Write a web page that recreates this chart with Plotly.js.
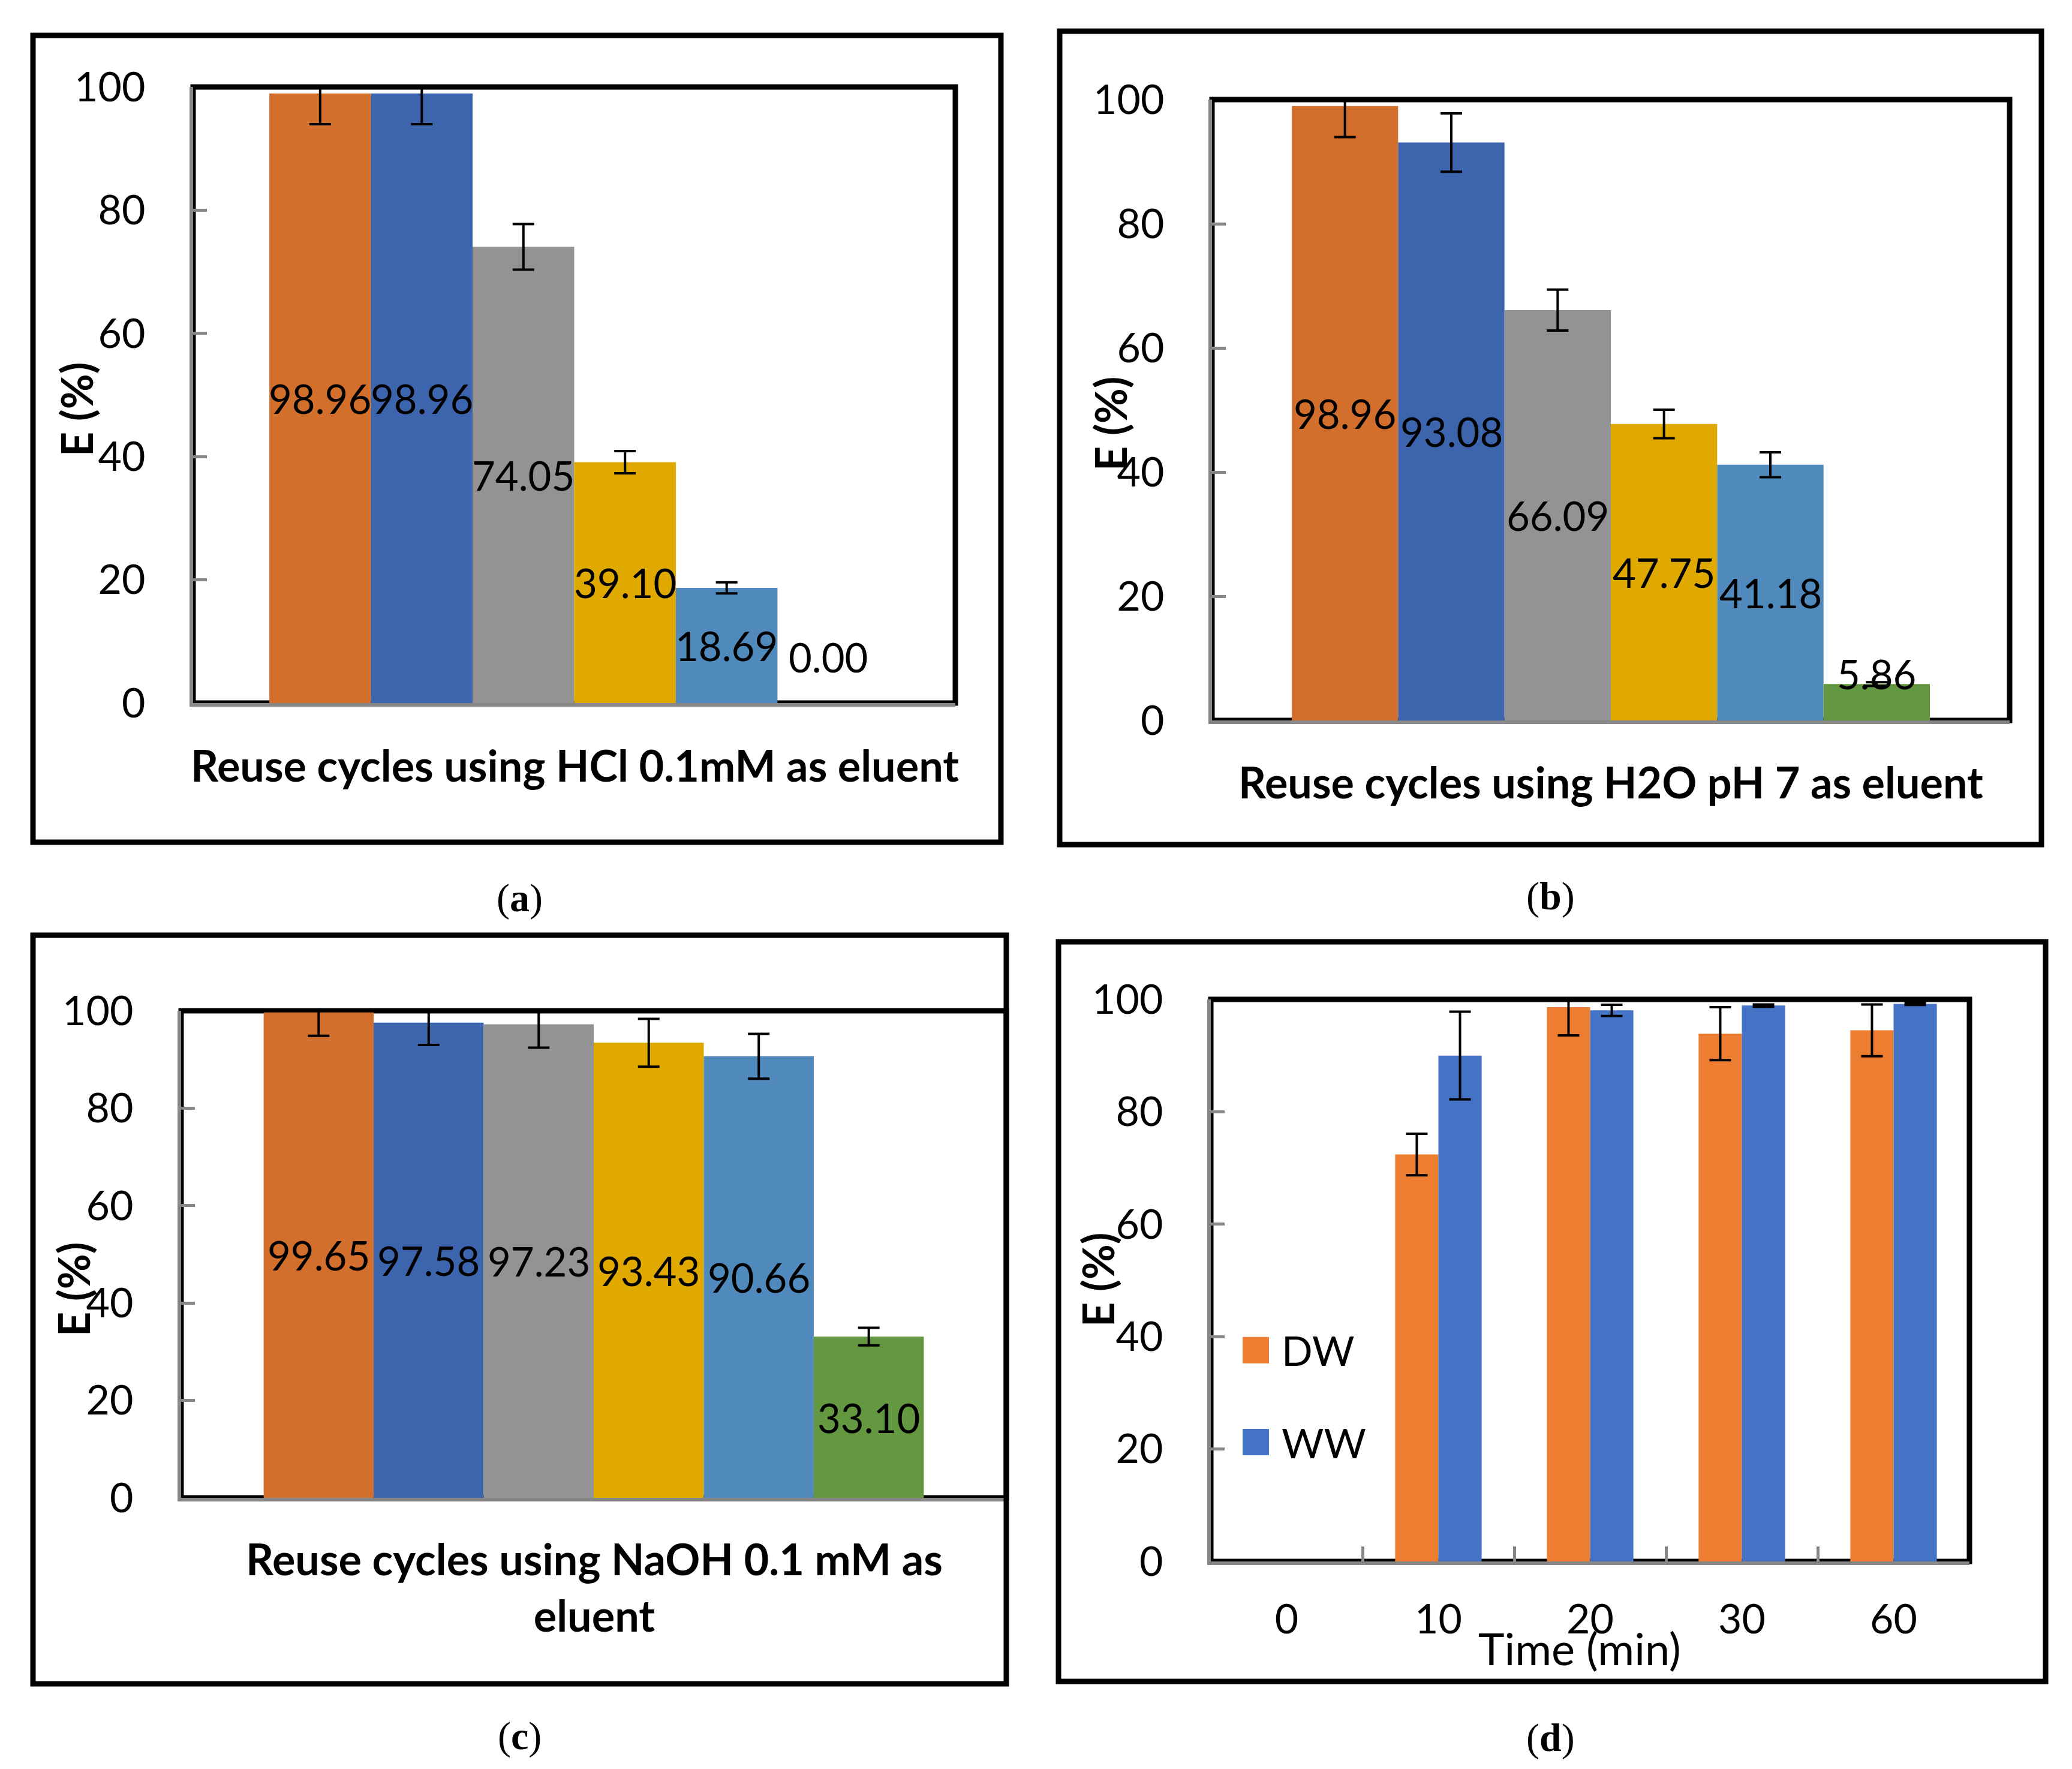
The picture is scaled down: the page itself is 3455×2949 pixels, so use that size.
<!DOCTYPE html>
<html>
<head>
<meta charset="utf-8">
<script src="https://cdn.plot.ly/plotly-3.0.1.min.js"></script>
<style>
body { margin: 0; background: #ffffff; }
</style>
</head>
<body>
<div id="figure"></div>
<script>
var cycles = [1, 2, 3, 4, 5, 6];
var cycleColors = ['#D36F2C', '#3C65AE', '#939393', '#E0A900', '#5089BB', '#639840'];

var hclValues = [98.96, 98.96, 74.05, 39.10, 18.69, 0.00];
var hclErrors = [5.0, 5.0, 3.7, 1.8, 0.9, NaN];

var waterValues = [98.96, 93.08, 66.09, 47.75, 41.18, 5.86];
var waterErrors = [5.0, 4.7, 3.3, 2.3, 2.0, 0.3];

var naohValues = [99.65, 97.58, 97.23, 93.43, 90.66, 33.10];
var naohErrors = [4.8, 4.6, 4.8, 4.9, 4.6, 1.8];

var times = ['0', '10', '20', '30', '60'];
var dwValues = [0, 72.4, 98.6, 93.9, 94.5];
var dwErrors = [NaN, 3.7, 5.0, 4.7, 4.6];
var wwValues = [0, 90.0, 98.05, 98.9, 99.2];
var wwErrors = [NaN, 7.8, 1.0, 0.2, 0.2];

var yTicks = [0, 20, 40, 60, 80, 100];

var W = 3455, H = 2949;
var FONT = 'Lato, Carlito, sans-serif';
var AXIS_GREY = '#878787';

function px(x) { return x / W; }
function py(y) { return 1 - y / H; }

function cycleTrace(values, errors, n)
{
	return {
		type: 'bar',
		x: cycles,
		y: values,
		width: 1,
		marker: {color: cycleColors, line: {width: 0}},
		error_y: {type: 'data', array: errors, visible: true, color: '#000000', thickness: 4, width: 18},
		xaxis: 'x' + n,
		yaxis: 'y' + n,
		showlegend: false,
		hoverinfo: 'none'
	};
}

function timeTrace(name, values, errors, color)
{
	return {
		type: 'bar',
		name: name,
		legendgroup: name,
		x: times,
		y: values,
		marker: {color: color, line: {width: 0}},
		error_y: {type: 'data', array: errors, visible: true, color: '#000000', thickness: 4, width: 18},
		xaxis: 'x4',
		yaxis: 'y4',
		hoverinfo: 'none'
	};
}

function yAxis(top, bottom, anchor)
{
	return {
		domain: [py(bottom), py(top)],
		anchor: anchor,
		range: [0, 100],
		tickvals: yTicks,
		ticks: 'inside',
		ticklen: 23,
		tickwidth: 5,
		tickcolor: AXIS_GREY,
		showline: true,
		linecolor: AXIS_GREY,
		linewidth: 6,
		showgrid: false,
		zeroline: false,
		ticklabelstandoff: 60,
		tickfont: {family: FONT, size: 68, color: '#000000'}
	};
}

function xAxis(left, right, anchor)
{
	return {
		domain: [px(left), px(right)],
		anchor: anchor,
		range: [-0.25, 7.25],
		tickvals: [-0.25, 7.25],
		ticktext: ['', ''],
		ticks: 'inside',
		ticklen: 23,
		tickwidth: 5,
		tickcolor: AXIS_GREY,
		showline: true,
		linecolor: AXIS_GREY,
		linewidth: 6,
		showgrid: false,
		zeroline: false,
		fixedrange: true
	};
}

function valueLabels(values, n)
{
	var out = [];
	for(var iii = 0; iii < values.length; iii++)
	{
		out.push({
			xref: 'x' + n, yref: 'y' + n,
			x: cycles[iii],
			y: Math.max(values[iii] / 2, 7.5),
			text: values[iii].toFixed(2),
			showarrow: false,
			font: {family: FONT, size: 67, color: '#000000'}
		});
	}
	return out;
}

function paperText(text, x, y, opts)
{
	var a = {
		xref: 'paper', yref: 'paper',
		x: px(x), y: py(y),
		xanchor: 'center', yanchor: 'middle',
		text: text,
		showarrow: false,
		font: {family: FONT, size: 74, color: '#000000'}
	};
	for(var k in opts)
		a[k] = opts[k];
	return a;
}

function box(x0, x1, y0, y1)
{
	return {
		type: 'rect', xref: 'paper', yref: 'paper',
		x0: px(x0), x1: px(x1), y0: py(y0), y1: py(y1),
		line: {color: '#000000', width: 9},
		fillcolor: 'rgba(0,0,0,0)',
		layer: 'above'
	};
}

function frame(n)
{
	return {
		type: 'rect', xref: 'x' + n + ' domain', yref: 'y' + n + ' domain',
		x0: 0, x1: 1, y0: 0, y1: 1,
		line: {color: '#000000', width: 9},
		fillcolor: 'rgba(0,0,0,0)',
		layer: 'below'
	};
}

var data = [
	cycleTrace(hclValues, hclErrors, ''),
	cycleTrace(waterValues, waterErrors, '2'),
	cycleTrace(naohValues, naohErrors, '3'),
	timeTrace('DW', dwValues, dwErrors, '#ED7D31'),
	timeTrace('WW', wwValues, wwErrors, '#4472C4')
];

var annotations = []
	.concat(valueLabels(hclValues, ''))
	.concat(valueLabels(waterValues, '2'))
	.concat(valueLabels(naohValues, '3'));

var bold = {font: {family: FONT, size: 72, color: '#000000', weight: 'bold'}};
var yTitle = {textangle: -90, font: {family: FONT, size: 72, color: '#000000', weight: 'bold'}};
annotations.push(paperText('Reuse cycles using HCl 0.1mM as eluent', 958, 1275, bold));
annotations.push(paperText('Reuse cycles using H2O pH 7 as eluent', 2686, 1303, bold));
annotations.push(paperText('Reuse cycles using NaOH 0.1 mM as<br>eluent', 991, 2645, bold));
annotations.push(paperText('Time (min)', 2634, 2747, {}));
annotations.push(paperText('E (%)', 127, 683, yTitle));
annotations.push(paperText('E (%)', 1851, 707, yTitle));
annotations.push(paperText('E (%)', 122, 2150, yTitle));
annotations.push(paperText('E (%)', 1830, 2134, yTitle));

var serif = {font: {family: 'Liberation Serif, Times New Roman, serif', size: 66, color: '#000000'}};
annotations.push(paperText('(<b>a</b>)', 866, 1497, serif));
annotations.push(paperText('(<b>b</b>)', 2585, 1494, serif));
annotations.push(paperText('(<b>c</b>)', 866, 2894, serif));
annotations.push(paperText('(<b>d</b>)', 2585, 2897, serif));

var timeX = xAxis(2019, 3284, 'y4');
timeX.type = 'category';
timeX.range = [-0.5, 4.5];
delete timeX.tickvals;
delete timeX.ticktext;
timeX.tickson = 'boundaries';
timeX.ticklen = 25;
timeX.ticklabelstandoff = 32;
timeX.tickfont = {family: FONT, size: 68, color: '#000000'};

var layout = {
	width: W,
	height: H,
	autosize: false,
	margin: {l: 0, r: 0, t: 0, b: 0},
	paper_bgcolor: '#ffffff',
	plot_bgcolor: 'rgba(0,0,0,0)',
	barmode: 'group',
	bargap: 0.43,
	bargroupgap: 0,
	xaxis: xAxis(322, 1593, 'y'),
	yaxis: yAxis(145, 1172, 'x'),
	xaxis2: xAxis(2021, 3351, 'y2'),
	yaxis2: yAxis(166, 1201, 'x2'),
	xaxis3: xAxis(302, 1678, 'y3'),
	yaxis3: yAxis(1685, 2497, 'x3'),
	xaxis4: timeX,
	yaxis4: yAxis(1666, 2603, 'x4'),
	showlegend: true,
	legend: {
		x: px(2051), xanchor: 'left',
		y: py(2200), yanchor: 'top',
		bgcolor: 'rgba(0,0,0,0)',
		font: {family: FONT, size: 68, color: '#000000'},
		itemwidth: 76,
		tracegroupgap: 62
	},
	annotations: annotations,
	shapes: [
		frame(''), frame('2'), frame('3'), frame('4'),
		box(55, 1669, 59, 1404),
		box(1767, 3404, 52, 1408),
		box(55, 1678, 1559, 2807),
		box(1765, 3411, 1570, 2803)
	]
};

Plotly.newPlot('figure', data, layout, {displayModeBar: false, staticPlot: true}).then(function()
{
	// excel draws the legend keys as big squares
	var keys = document.querySelectorAll('.legendpoints path');
	for(var iii = 0; iii < keys.length; iii++)
	{
		var t = keys[iii].getAttribute('transform') || '';
		keys[iii].setAttribute('transform', t + ' scale(3.67)');
	}
});
</script>
</body>
</html>
